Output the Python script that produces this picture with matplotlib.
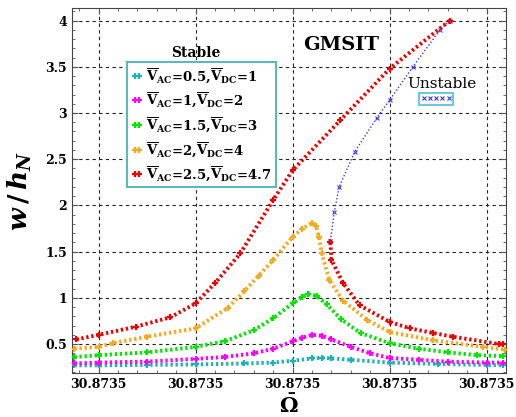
import matplotlib
matplotlib.use('Agg')
import matplotlib.pyplot as plt
from matplotlib.lines import Line2D
from matplotlib.ticker import AutoMinorLocator, FixedLocator

plt.rcParams['font.family'] = 'DejaVu Serif'
plt.rcParams['mathtext.fontset'] = 'custom'
plt.rcParams['mathtext.rm'] = 'DejaVu Serif:bold'
plt.rcParams['mathtext.bf'] = 'DejaVu Serif:bold'
plt.rcParams['mathtext.it'] = 'DejaVu Serif:italic:bold'

# x in units of the (tiny) frequency grid step, tick labels are all 30.8735
x_ticks = [0, 1, 2, 3, 4]
x_tick_labels = ['30.8735'] * 5
y_ticks = [0.5, 1, 1.5, 2, 2.5, 3, 3.5, 4]
y_tick_labels = ['0.5', '1', '1.5', '2', '2.5', '3', '3.5', '4']

# stable branches
cyan_x = [-0.25, 0, 0.5, 1.0, 1.5, 1.8, 2.0, 2.2, 2.3, 2.4, 2.6, 3.0, 3.5, 4.0, 4.17]
cyan_y = [0.27, 0.27, 0.275, 0.28, 0.29, 0.30, 0.32, 0.345, 0.35, 0.345, 0.33, 0.30, 0.285, 0.275, 0.27]

mag_x = [-0.25, 0, 0.5, 1.0, 1.3, 1.6, 1.8, 2.0, 2.1, 2.2, 2.3, 2.4, 2.6, 2.8, 3.0, 3.3, 3.6, 4.0, 4.17]
mag_y = [0.29, 0.30, 0.31, 0.34, 0.36, 0.40, 0.45, 0.53, 0.57, 0.60, 0.59, 0.55, 0.47, 0.40, 0.35, 0.33, 0.31, 0.30, 0.30]

green_x = [-0.25, 0, 0.5, 1.0, 1.3, 1.6, 1.8, 2.0, 2.1, 2.16, 2.25, 2.35, 2.5, 2.7, 3.0, 3.3, 3.6, 3.9, 4.17]
green_y = [0.36, 0.38, 0.41, 0.47, 0.53, 0.65, 0.78, 0.94, 1.01, 1.04, 1.02, 0.93, 0.77, 0.62, 0.51, 0.45, 0.41, 0.38, 0.37]

orange_x = [-0.25, 0, 0.15, 0.5, 1.0, 1.33, 1.5, 1.65, 1.8, 2.0, 2.1, 2.2, 2.24, 2.27, 2.3, 2.38,
            2.52, 2.77, 3.0, 3.45, 3.96, 4.19]
orange_y = [0.45, 0.47, 0.51, 0.58, 0.67, 0.89, 1.07, 1.24, 1.41, 1.66, 1.75, 1.81, 1.78, 1.66, 1.48, 1.19,
            0.97, 0.76, 0.63, 0.54, 0.47, 0.44]

red_x = [-0.23, 0, 0.39, 0.74, 1.0, 1.2, 1.46, 1.8, 2.0, 2.49, 3.0, 3.62]
red_y = [0.55, 0.60, 0.69, 0.79, 0.94, 1.16, 1.48, 2.06, 2.38, 2.92, 3.48, 4.0]
red_low_x = [2.39, 2.40, 2.52, 2.69, 3.0, 3.21, 3.45, 3.65, 4.13, 4.17]
red_low_y = [1.60, 1.41, 1.16, 0.92, 0.74, 0.67, 0.62, 0.58, 0.50, 0.50]

# unstable branch
blue_x = [2.39, 2.43, 2.48, 2.64, 2.87, 3.0, 3.24, 3.52, 3.62]
blue_y = [1.62, 1.93, 2.2, 2.58, 2.95, 3.14, 3.5, 3.9, 4.0]

labels = [r'$\overline{\mathrm{V}}_{\mathrm{AC}}$=0.5,$\overline{\mathrm{V}}_{\mathrm{DC}}$=1',
          r'$\overline{\mathrm{V}}_{\mathrm{AC}}$=1,$\overline{\mathrm{V}}_{\mathrm{DC}}$=2',
          r'$\overline{\mathrm{V}}_{\mathrm{AC}}$=1.5,$\overline{\mathrm{V}}_{\mathrm{DC}}$=3',
          r'$\overline{\mathrm{V}}_{\mathrm{AC}}$=2,$\overline{\mathrm{V}}_{\mathrm{DC}}$=4',
          r'$\overline{\mathrm{V}}_{\mathrm{AC}}$=2.5,$\overline{\mathrm{V}}_{\mathrm{DC}}$=4.7']
colors = ['#1fb2b2', '#ff00ff', '#00e600', '#f4a91e', '#ee0000']

fig = plt.figure(figsize=(5.16, 4.17), dpi=100)
ax = fig.add_axes([0.1395, 0.1055, 0.8411, 0.8755])

series = [(cyan_x, cyan_y), (mag_x, mag_y), (green_x, green_y), (orange_x, orange_y),
          (red_x, red_y), (red_low_x, red_low_y)]
series_colors = colors + [colors[4]]
for (xs, ys), c in zip(series, series_colors):
    ax.plot(xs, ys, ls=(0, (0.6, 0.7)), lw=2.8, color=c, zorder=3)
    ax.plot(xs, ys, '+', ms=4.5, mew=1.6, color=c, zorder=3)

ax.plot(blue_x, blue_y, ls=(0, (1, 1.5)), lw=1, color='#3a3ad8', zorder=2)
ax.plot(blue_x, blue_y, 'x', ms=2.5, mew=0.8, color='#3a3ad8', zorder=2)

ax.set_xlim(-0.275, 4.2)
ax.set_ylim(0.187, 4.137)
ax.xaxis.set_major_locator(FixedLocator(x_ticks))
ax.set_xticklabels(x_tick_labels)
ax.yaxis.set_major_locator(FixedLocator(y_ticks))
ax.set_yticklabels(y_tick_labels)
ax.xaxis.set_minor_locator(AutoMinorLocator(5))
ax.yaxis.set_minor_locator(AutoMinorLocator(5))
ax.tick_params(which='both', direction='in', top=True, right=True, color='#555555')
ax.tick_params(which='major', length=4, labelsize=9)
ax.tick_params(which='minor', length=2)
for lab in ax.get_xticklabels() + ax.get_yticklabels():
    lab.set_fontweight('bold')
for s in ax.spines.values():
    s.set_color('#444444')

ax.grid(True, which='major', ls=(0, (3, 3)), color='#222222', lw=0.8)

ax.set_xlabel(r'$\bar{\Omega}$', fontsize=15, labelpad=2)
ax.set_ylabel(r'$w\,/\,h_N$', fontsize=19, labelpad=8)

handles = [Line2D([], [], ls='none', marker='+', ms=4.5, mew=1.6, color=c) for c in colors]
leg = ax.legend(handles, labels, loc='upper left', bbox_to_anchor=(0.127, 0.852),
                numpoints=2, handlelength=0.9, handletextpad=0.25, labelspacing=0.45,
                borderpad=0.3, borderaxespad=0, fancybox=False, framealpha=1,
                prop={'weight': 'bold', 'size': 9.5})
leg.get_frame().set_edgecolor('#5fb8b8')
leg.get_frame().set_linewidth(1.5)
ax.add_artist(leg)
ax.text(0.286, 0.877, 'Stable', transform=ax.transAxes, ha='center', va='center',
        fontsize=10, fontweight='bold')

uh = [Line2D([], [], ls='none', marker='x', ms=2.5, mew=0.8, color='#3a3ad8')]
leg2 = ax.legend(uh, [''], loc='center', bbox_to_anchor=(0.839, 0.751), numpoints=5,
                 handlelength=3.6, handletextpad=0, borderpad=0.25, borderaxespad=0,
                 fancybox=False, framealpha=1, prop={'size': 6})
leg2.get_frame().set_edgecolor('#6ec6e6')
leg2.get_frame().set_linewidth(1.5)
ax.text(0.853, 0.792, 'Unstable', transform=ax.transAxes, ha='center', va='center', fontsize=11)

ax.text(0.620, 0.899, 'GMSIT', transform=ax.transAxes, ha='center', va='center',
        fontsize=14, fontweight='bold')

fig.savefig('out.png', dpi=100)
